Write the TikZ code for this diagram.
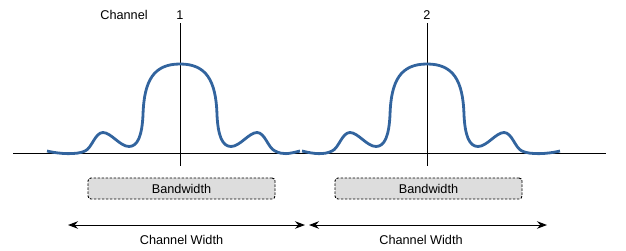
\documentclass[tikz,border=0pt]{standalone}
\usepackage{fontspec}
\setmainfont{Liberation Sans}
\usetikzlibrary{arrows.meta,positioning}
\definecolor{signal}{RGB}{50,100,158}
\definecolor{bandfill}{RGB}{221,221,221}

\begin{document}
\begin{tikzpicture}[x=1pt, y=-1pt,
    font=\fontsize{12.7}{14}\selectfont,
    band/.style={draw, rounded corners=3pt, dash pattern=on 2.5pt off 1.5pt, line width=0.9pt,
                 fill=bandfill, minimum width=187pt, minimum height=21pt, inner sep=0pt},
    widtharrow/.style={{Stealth[length=10pt,width=7.5pt]}-{Stealth[length=10pt,width=7.5pt]}, line width=1pt},
    lobe/.style={signal, line width=2.8pt, line join=round}]
    \useasboundingbox (0,0) rectangle (626,250);

    % Frequency axis
    \coordinate (axisL) at (13,153);
    \coordinate (axisR) at (606,153);
    \draw [line width=1pt] (axisL) -- (axisR);

    \node (chlabel) at (124,15) {Channel};

    % One spectrum per channel: centre / number / left tail / right tail
    \foreach \c/\n/\l/\r in {180/1/133/120, 427/2/125/133} {
        \node [inner sep=1pt] (num\n) at (\c,15) {\n};
        \coordinate (top\n) at (\c,23);
        \coordinate (foot\n) at (\c,166);
        \draw [line width=0.9pt] (top\n) -- (foot\n);

        \draw [lobe] (\c-\l,151) .. controls (\c-\l+12,154) and (\c-103,155) .. (\c-95,151)
            .. controls (\c-88,148) and (\c-85,132.5) .. (\c-77,132.5)
            .. controls (\c-69,132.5) and (\c-60,146.5) .. (\c-51,146.5)
            .. controls (\c-42,146.5) and (\c-38,135) .. (\c-37,115)
            .. controls (\c-36,80) and (\c-26,64) .. (\c,64)
            .. controls (\c+26,64) and (\c+36,80) .. (\c+37,115)
            .. controls (\c+38,135) and (\c+42,146.5) .. (\c+51,146.5)
            .. controls (\c+60,146.5) and (\c+69,132.5) .. (\c+77,132.5)
            .. controls (\c+85,132.5) and (\c+88,148) .. (\c+95,151)
            .. controls (\c+103,155) and (\c+\r-12,154) .. (\c+\r,151);

        \node [band] (band\n) at (\c+1.5,188.5) {Bandwidth};
    }

    % Channel widths
    \coordinate (w1L) at (68,225);
    \coordinate (w1R) at (305,225);
    \coordinate (w2L) at (309,225);
    \coordinate (w2R) at (547,225);
    \draw [widtharrow] (w1L) -- (w1R);
    \draw [widtharrow] (w2L) -- (w2R);
    \node (cw1) at (181.5,240) {Channel Width};
    \node (cw2) at (421,240) {Channel Width};
\end{tikzpicture}
\end{document}
